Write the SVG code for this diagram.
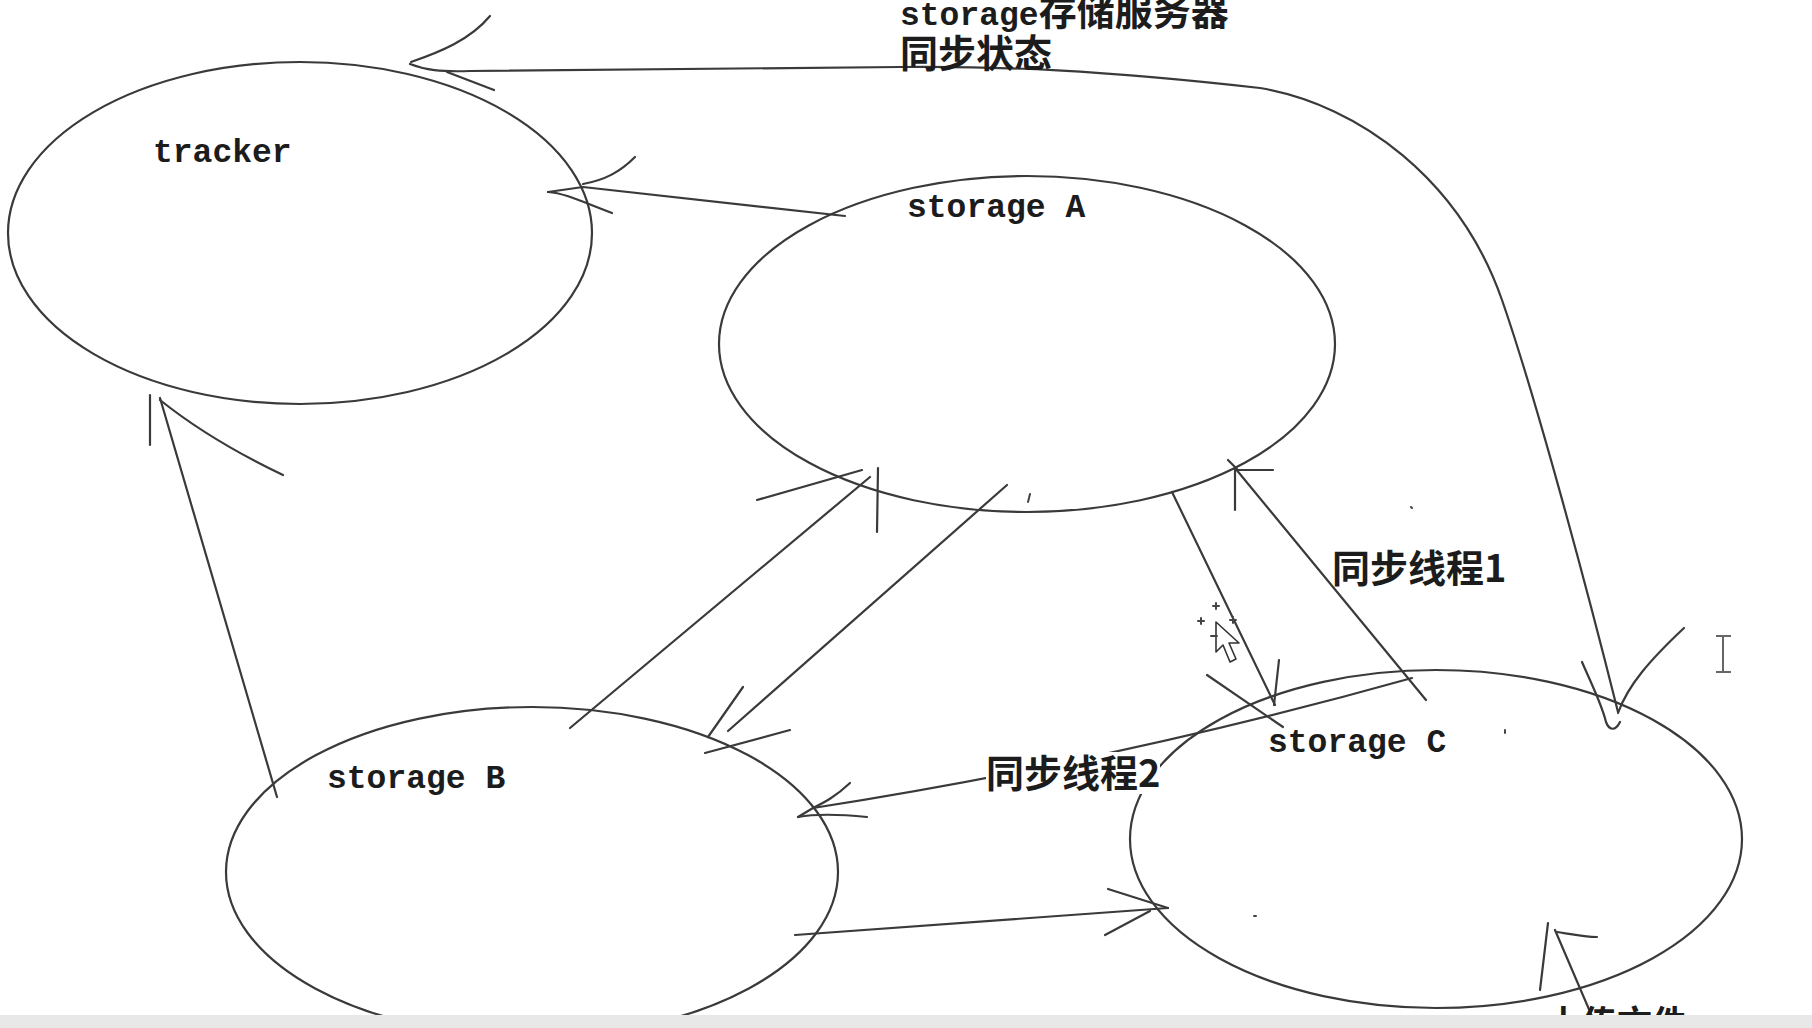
<svg xmlns="http://www.w3.org/2000/svg" width="1812" height="1028" viewBox="0 0 1812 1028">
<style>
.node ellipse{fill:none;stroke:#3a3a3a;stroke-width:2.2}
.ln{fill:none;stroke:#3a3a3a;stroke-width:2.2;stroke-linecap:round;stroke-linejoin:round}
.lbl{font-family:"Liberation Mono","DejaVu Sans Mono",monospace;font-size:33px;font-weight:bold;fill:#1c1c1c}
.cjk{font-family:"Noto Sans CJK SC","Noto Sans CJK JP",sans-serif;font-size:38px;font-weight:bold;fill:#1c1c1c}
.mark{fill:none;stroke:#444;stroke-width:2;stroke-linecap:round}
</style>
<rect width="1812" height="1028" fill="#ffffff"/>
<g id="tracker" class="node">
<ellipse cx="300" cy="233" rx="292" ry="171"/>
<text class="lbl" x="153" y="162">tracker</text>
</g>
<g id="storageA" class="node">
<ellipse cx="1027" cy="344" rx="308" ry="168"/>
<text class="lbl" x="907" y="217">storage A</text>
</g>
<g id="storageB" class="node">
<ellipse cx="532" cy="872" rx="306" ry="165"/>
<text class="lbl" x="327" y="788">storage B</text>
</g>
<g id="storageC" class="node">
<ellipse cx="1436" cy="839" rx="306" ry="169"/>
<text class="lbl" x="1268" y="752">storage C</text>
</g>
<g id="connectors" class="ln">
<path d="M410,64 C425,70 440,72 470,71 L900,67 C1000,66 1100,70 1260,88 C1360,105 1460,180 1502,300 C1535,395 1585,580 1618,712"/>
<path d="M411,62 C440,52 470,40 490,16"/>
<path d="M447,72 L494,90"/>
<path d="M1618,713 C1628,685 1650,660 1684,628"/>
<path d="M1582,662 C1592,685 1602,705 1606,722 C1609,730 1615,732 1620,722"/>
<path d="M845,216 L583,187 L548,192"/>
<path d="M583,184 C605,180 620,172 635,157"/>
<path d="M548,192 C565,193 585,203 612,213"/>
<path d="M277,797 L160,398"/>
<path d="M150,395 L150,445"/>
<path d="M160,400 C185,420 220,445 283,475"/>
<path d="M570,728 L870,477"/>
<path d="M757,500 L862,470"/>
<path d="M878,468 L877,532"/>
<path d="M1007,485 L728,731"/>
<path d="M708,737 L743,687"/>
<path d="M705,753 L790,730"/>
<path d="M1172,492 L1275,705"/>
<path d="M1279,660 L1274,705"/>
<path d="M1207,675 L1283,727"/>
<path d="M1426,700 L1235,468"/>
<path d="M1235,470 L1273,470"/>
<path d="M1235,470 L1235,510"/>
<path d="M1228,460 L1237,469"/>
<path d="M1412,678 Q1120,760 813,808 L798,817"/>
<path d="M813,808 C825,802 835,797 850,783"/>
<path d="M798,817 C820,813 847,815 867,817"/>
<path d="M795,935 L1168,908"/>
<path d="M1108,889 L1168,908"/>
<path d="M1105,935 L1150,911"/>
<path d="M1597,1028 L1555,930"/>
<path d="M1548,923 L1540,990"/>
<path d="M1557,932 C1570,934 1585,937 1597,937"/>
</g>
<g id="labels">
<text x="900" y="25"><tspan class="lbl">storage</tspan><tspan class="cjk">存储服务器</tspan></text>
<text class="cjk" x="900" y="67">同步状态</text>
<text class="cjk" x="1332" y="582">同步线程1</text>
<rect x="986" y="752" width="174" height="42" fill="#ffffff"/>
<text class="cjk" x="986" y="787">同步线程2</text>
<text class="cjk" x="1547" y="1036" style="font-size:35px">上传文件</text>
</g>
<g id="cursor">
<polygon points="1216,622 1216,652 1223,645 1230,662 1236,659 1229,643 1239,643" fill="#ffffff" stroke="#333" stroke-width="1.6" stroke-linejoin="round"/>
<path class="mark" d="M1213,606 L1219,606 M1216,603 L1216,609 M1198,621 L1204,621 M1201,618 L1201,624 M1230,620 L1236,620 M1233,617 L1233,623 M1211,636 L1217,636"/>
</g>
<g id="ibeam">
<path d="M1716,636 L1731,636 M1723,636 L1723,672 M1716,672 L1731,672" fill="none" stroke="#666" stroke-width="2"/>
</g>
<g id="dots">
<path class="mark" d="M1030,494 L1028,502 M1411,507 L1412,508 M1505,730 L1505,733 M1254,916 L1256,916"/>
</g>
<rect x="0" y="1015" width="1812" height="13" fill="#e8e8e8"/>
</svg>
